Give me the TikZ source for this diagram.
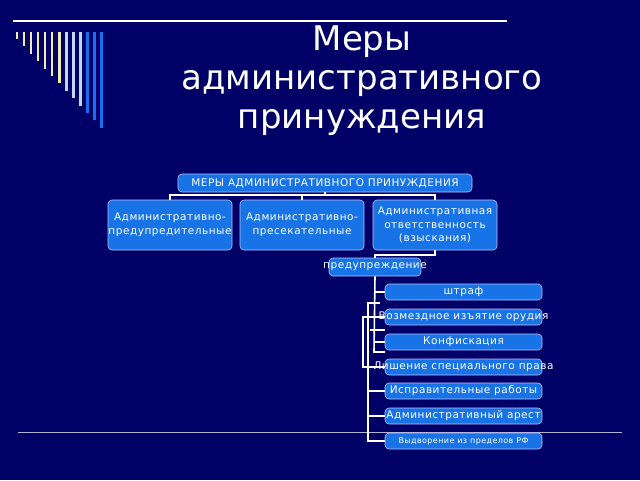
\documentclass[tikz,border=0pt]{standalone}
\usepackage{fontspec}
\setmainfont{DejaVu Sans}
\newcommand{\bxn}[6][]{%
  \node[bx,minimum width=#4,minimum height=#5] (#2) at #3 {};
  \node[bxt,#1] (#2-t) at (#2.center) {#6};}
\begin{document}
\begin{tikzpicture}[x=1pt,y=-1pt,
  bx/.style={draw=white!75!blue,fill=boxblue,rounded corners=4pt,inner sep=0pt,line width=0.6pt},
  bxt/.style={text=white,inner sep=0pt,align=center,font=\fontsize{10.5}{13.5}\selectfont\addfontfeatures{LetterSpace=5}},
  ln/.style={draw=white,line width=1.6pt}]
\definecolor{bg}{HTML}{000066}
\definecolor{boxblue}{HTML}{1874E6}
\fill[bg] (0,0) rectangle (640,480);
\useasboundingbox (0,0) rectangle (640,480);
\draw[white,line width=2.5pt] (13,21) -- (507,21) coordinate (tl);
\draw[white!70!bg,line width=1pt] (18,432) -- (622,432) coordinate (bl);
% stripes
\foreach \i/\c in {0/F2EAB0,1/F2EAB0,2/F2EAB0,3/F2EAB0,4/F2EAB0,5/F2EAB0,6/F2EAB0,7/C0D8F0,8/C0D8F0,9/C0D8F0,10/1870F0,11/1870F0,12/1870F0}{
  \definecolor{sc}{HTML}{\c}
  \draw[sc,line width=2.4pt] (17+7.05*\i,32) -- (17+7.05*\i,{39+7.4*\i});
}
\node[text=white,align=center,font=\fontsize{34}{39}\selectfont] (title) at (362,81) {Меры\\административного\\принуждения};
% tree
\bxn{root}{(325,183)}{294pt}{18pt}{МЕРЫ АДМИНИСТРАТИВНОГО ПРИНУЖДЕНИЯ}
\bxn{a}{(170,225)}{124pt}{50pt}{Административно-\\предупредительные}
\bxn{b}{(302,225)}{124pt}{50pt}{Административно-\\пресекательные}
\bxn{c}{(435,225)}{124pt}{50pt}{Административная\\ответственность\\(взыскания)}
\draw[ln] (root.south) -- (325,195) coordinate (j);
\draw[ln] (a.north) |- (j) -| (c.north);
\draw[ln] (b.north) -- (302,195);
\bxn{p}{(375,267)}{92pt}{18pt}{предупреждение}
\draw[ln] (c.south) |- (375,255) -- (p.north);
\foreach \n/\y/\t in {s1/292/штраф,s2/317/Возмездное изъятие орудия,s3/342/Конфискация,s4/367/Лишение специального права,s5/391/Исправительные работы,s6/416/Административный арест}{
  \bxn{\n}{(463.5,\y)}{157pt}{16pt}{\t}
}
\bxn[font=\fontsize{8}{9}\selectfont\addfontfeatures{LetterSpace=5}]{s7}{(463.5,441)}{157pt}{16pt}{Выдворение из пределов РФ}
\draw[ln] (p.south) -- (374,352) -- (385,352);
\draw[ln] (374,292) -- (s1.west);
\draw[ln] (380,303) -- (368,303) |- (s7.west);
\draw[ln] (368,391) -- (s5.west);
\draw[ln] (368,416) -- (s6.west);
\draw[ln] (s2.west) -- (363,317) |- (s4.west);
\draw[ln] (370,330) -- (385,330);
\draw[ln] (374,342) -- (s3.west);
% redraw texts above connectors
\foreach \n in {s2,s4}{\node[bxt] at (\n-t) {\phantom{x}};}
\end{tikzpicture}
\end{document}
